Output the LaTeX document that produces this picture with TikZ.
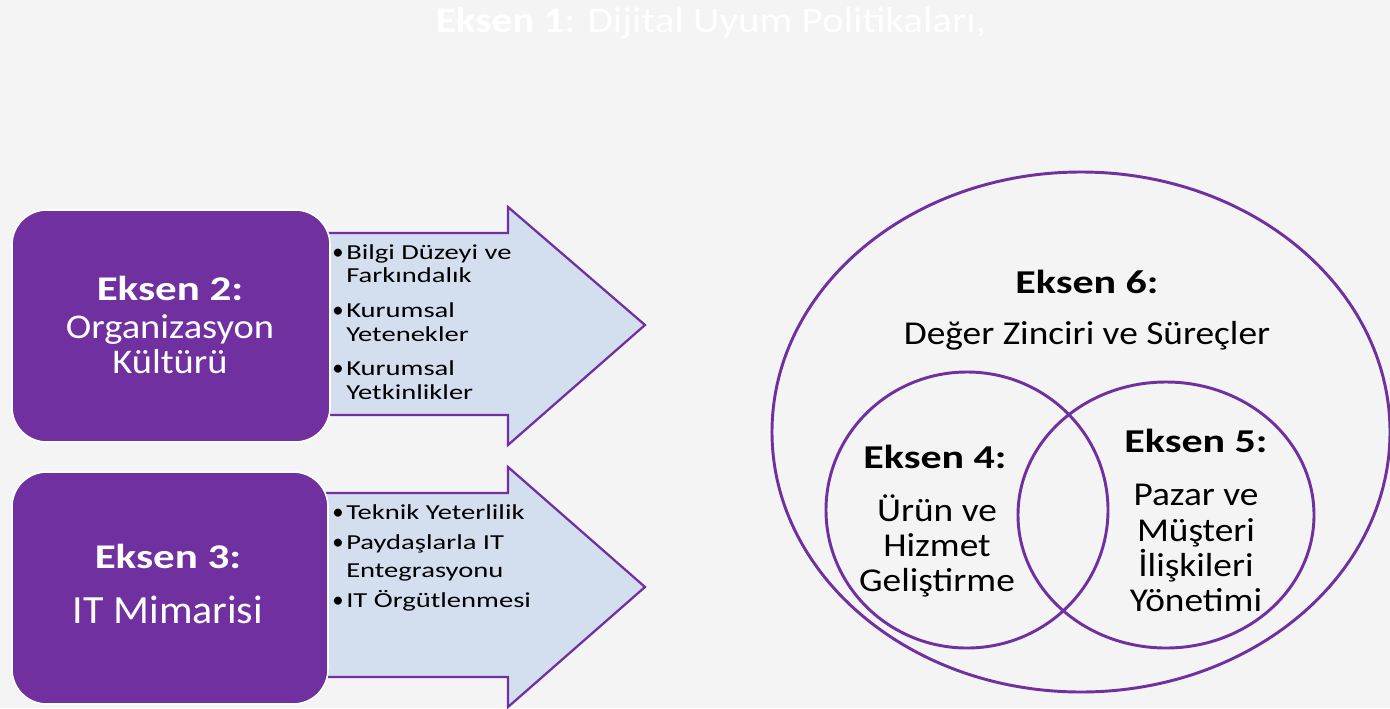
\documentclass[tikz,border=0pt]{standalone}
\usepackage{graphicx}
\usepackage{fontspec}
\setmainfont{Carlito}
\definecolor{pur}{HTML}{7030A0}
\definecolor{lblue}{HTML}{D3DEEF}
\definecolor{bg}{HTML}{F4F4F4}
\newcommand{\hs}[2]{\scalebox{#1}[1]{#2}}
\tikzset{
  boxst/.style={fill=pur, draw=white, line width=1.2pt, rounded corners=26pt, inner sep=0pt},
  arrowst/.style={fill=lblue, draw=pur, line width=1.7pt, line join=miter},
  ringst/.style={draw=pur, line width=2.2pt},
  boxtext/.style={text=white, anchor=base, inner sep=0pt, font=\fontsize{26}{27}\selectfont},
  bultext/.style={anchor=base west, inner sep=0pt, font=\fontsize{16}{18}\selectfont},
  buldot/.style={anchor=base, inner sep=0pt, font=\fontsize{17}{18}\selectfont},
  circtext/.style={anchor=base, inner sep=0pt, font=\fontsize{25}{26}\selectfont},
}
\begin{document}
\begin{tikzpicture}[x=0.75pt,y=-0.75pt]
\fill[bg] (0,0) rectangle (1390,708);
\useasboundingbox (0,0) rectangle (1390,708);

% title
\node[text=white, anchor=base, inner sep=0pt, font=\fontsize{27}{30}\selectfont] (t1) at (711,32) {\hs{1.14}{\textbf{Eksen 1}: Dijital Uyum Politikaları,}};

% arrows
\draw[arrowst] (320,233) -- (508,233) -- (508,207) -- (645,325) -- (508,445) -- (508,415) -- (320,415) -- cycle;
\draw[arrowst] (320,493) -- (508,493) -- (508,467) -- (645,587) -- (508,707) -- (508,677) -- (320,677) -- cycle;

% boxes
\node[boxst, minimum width=318*0.75pt, minimum height=232*0.75pt] (b2) at (171,326) {};
\node[boxst, minimum width=316*0.75pt, minimum height=232*0.75pt] (b3) at (170,588) {};

\node[boxtext] (e2) at (170,300) {\hs{1.24}{\textbf{Eksen 2:}}};
\node[boxtext] (o2) at (170,338) {\hs{1.11}{Organizasyon}};
\node[boxtext] (k2) at (170,373) {\hs{1.11}{Kültürü}};
\node[boxtext] (e3) at (168,568) {\hs{1.24}{\textbf{Eksen 3:}}};
\node[boxtext, font=\fontsize{30}{32}\selectfont] (m3) at (168,623) {\hs{1.05}{IT Mimarisi}};

% bullet lists
\node[buldot] (d1) at (338,259) {•};
\node[bultext] (l1a) at (346,259) {\hs{1.34}{Bilgi Düzeyi ve}};
\node[bultext] (l1b) at (346,282) {\hs{1.34}{Farkındalık}};
\node[buldot] (d2) at (338,317) {•};
\node[bultext] (l2a) at (346,317) {\hs{1.34}{Kurumsal}};
\node[bultext] (l2b) at (346,341) {\hs{1.34}{Yetenekler}};
\node[buldot] (d3) at (338,375) {•};
\node[bultext] (l3a) at (346,375) {\hs{1.34}{Kurumsal}};
\node[bultext] (l3b) at (346,399) {\hs{1.34}{Yetkinlikler}};
\node[buldot] (d4) at (338,519) {•};
\node[bultext] (l4a) at (346,519) {\hs{1.34}{Teknik Yeterlilik}};
\node[buldot] (d5) at (338,549) {•};
\node[bultext] (l5a) at (346,549) {\hs{1.34}{Paydaşlarla IT}};
\node[bultext] (l5b) at (346,577) {\hs{1.34}{Entegrasyonu}};
\node[buldot] (d6) at (338,607) {•};
\node[bultext] (l6a) at (346,607) {\hs{1.34}{IT Örgütlenmesi}};

% circles
\draw[ringst] (1081,432) ellipse [x radius=309, y radius=260];
\draw[ringst] (967,510) ellipse [x radius=141, y radius=138];
\draw[ringst] (1166,515) ellipse [x radius=148, y radius=133];

\node[circtext] (e6) at (1087,293) {\hs{1.26}{\textbf{Eksen 6:}}};
\node[circtext] (d6t) at (1087,344) {\hs{1.12}{Değer Zinciri ve Süreçler}};
\node[circtext] (e4) at (935,468) {\hs{1.26}{\textbf{Eksen 4:}}};
\node[circtext] (u4a) at (937,521) {\hs{1.12}{Ürün ve}};
\node[circtext] (u4b) at (937,556) {\hs{1.12}{Hizmet}};
\node[circtext] (u4c) at (937,591) {\hs{1.12}{Geliştirme}};
\node[circtext] (e5) at (1196,452) {\hs{1.26}{\textbf{Eksen 5:}}};
\node[circtext] (p5a) at (1196,505) {\hs{1.12}{Pazar ve}};
\node[circtext] (p5b) at (1196,541) {\hs{1.12}{Müşteri}};
\node[circtext] (p5c) at (1196,576) {\hs{1.12}{İlişkileri}};
\node[circtext] (p5d) at (1196,611) {\hs{1.12}{Yönetimi}};
\end{tikzpicture}
\end{document}
